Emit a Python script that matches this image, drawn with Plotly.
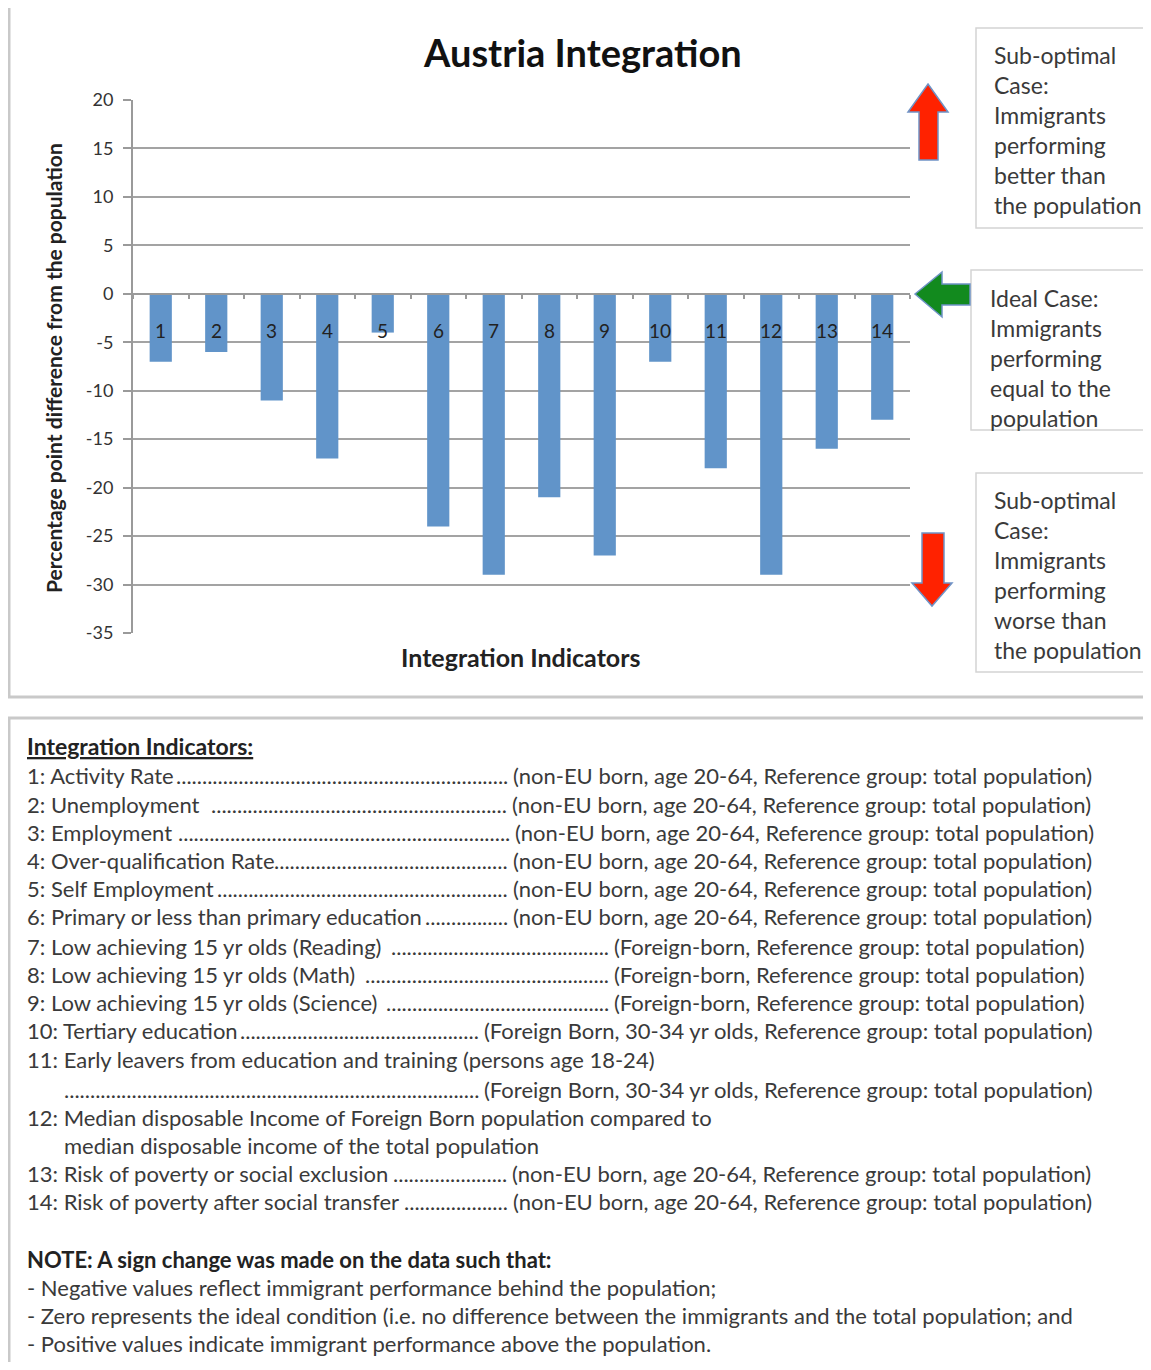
import plotly.graph_objects as go

# ---------------- data ----------------
categories = [str(i) for i in range(1, 15)]
values = [-7, -6, -11, -17, -4, -24, -29, -21, -27, -7, -18, -29, -16, -13]
y_ticks = [20, 15, 10, 5, 0, -5, -10, -15, -20, -25, -30, -35]
y_tick_text = [str(v) for v in y_ticks]

title_text = "Austria Integration"
y_title = "Percentage point difference from the population"
x_title = "Integration Indicators"

box_upper = ["Sub-optimal", "Case:", "Immigrants", "performing", "better than", "the population"]
box_ideal = ["Ideal Case:", "Immigrants", "performing", "equal to the", "population"]
box_lower = ["Sub-optimal", "Case:", "Immigrants", "performing", "worse than", "the population"]

ref_nonEU = "(non-EU born, age 20-64, Reference group: total population)"
ref_foreign = "(Foreign-born, Reference group: total population)"
ref_fb3034 = "(Foreign Born, 30-34 yr olds, Reference group: total population)"

indicator_labels = [
    "1: Activity Rate",
    "2: Unemployment",
    "3: Employment",
    "4: Over-qualification Rate",
    "5: Self Employment",
    "6: Primary or less than primary education",
    "7: Low achieving 15 yr olds (Reading)",
    "8: Low achieving 15 yr olds (Math)",
    "9: Low achieving 15 yr olds (Science)",
    "10: Tertiary education",
    "11: Early leavers from education and training (persons age 18-24)",
    "",
    "12: Median disposable Income of Foreign Born population compared to",
    "median disposable income of the total population",
    "13: Risk of poverty or social exclusion",
    "14: Risk of poverty after social transfer",
]
indicator_refs = [ref_nonEU] * 6 + [ref_foreign] * 3 + [ref_fb3034, None, ref_fb3034, None, None, ref_nonEU, ref_nonEU]

note_lines = [
    "<b>NOTE: A sign change was made on the data such that:</b>",
    "- Negative values reflect immigrant performance behind the population;",
    "- Zero represents the ideal condition (i.e. no difference between the immigrants and the total population; and",
    "- Positive values indicate immigrant performance above the population.",
]

# ---------------- layout geometry (pixels, page coordinates) ----------------
OFF = 8                      # page body margin
W, H = 1151 - OFF, 1370 - 2 * OFF
PX0, PX1, PY0, PY1 = 133, 910, 100, 633
FONT = "Lato"
TXT = "#3a3a3a"


def px(x):
    return (x - PX0) / (PX1 - PX0)


def py(y):
    return (PY1 - y) / (PY1 - PY0)


def poly(points):
    return "M " + " L ".join(f"{px(a):.5f},{py(b):.5f}" for a, b in points) + " Z"


fig = go.Figure()
fig.add_trace(go.Bar(
    x=categories, y=values, width=0.4,
    marker=dict(color="#6194c9", line=dict(width=0)),
    hoverinfo="x+y", showlegend=False,
))

annotations = []
# bar number labels (category index positions)
for i, c in enumerate(categories):
    annotations.append(dict(x=i, y=-3.8, xref="x", yref="y", text=c, showarrow=False,
                            xanchor="center", yanchor="middle",
                            font=dict(family=FONT, size=19, color="#222")))


def pa(x, y, text, size, color=TXT, xanchor="left", **kw):
    annotations.append(dict(x=px(x), y=py(y), xref="paper", yref="paper", text=text,
                            xanchor=xanchor, yanchor="middle", showarrow=False,
                            font=dict(family=FONT, size=size, color=color), **kw))


pa(582, 52, f"<b>{title_text}</b>", 38, "#111", "center")
pa(520, 657, f"<b>{x_title}</b>", 25, "#222", "center")
pa(53, 368, f"<b>{y_title}</b>", 21, "#222", "center", textangle=-90)

# side boxes text
def box_lines(lines, x0, y0, pitch=30):
    for i, t in enumerate(lines):
        pa(x0, y0 + i * pitch, t, 23)

box_lines(box_upper, 992, 55)
box_lines(box_ideal, 988, 298)
box_lines(box_lower, 992, 500)

# indicator list
pa(25, 746, "<b><u>Integration Indicators:</u></b>", 23, "#222")

row_y = [775, 804, 832, 860, 888, 916, 946, 974, 1002, 1030, 1059, 1089, 1117, 1145, 1173, 1201]
row_x = [25] * 13 + [62, 25, 25]
dot_start = [170, 205, 172, 272, 212, 424, 387, 360, 380, 238, None, 58, None, None, 392, 400]
ref_start = [511, 510, 513, 511, 511, 511, 612, 612, 612, 482, None, 482, None, None, 510, 511]
DOT_W = 5.25
FS = 22
for i, lab in enumerate(indicator_labels):
    if lab:
        pa(row_x[i], row_y[i], lab, FS)
    ref = indicator_refs[i]
    if ref:
        n = int((ref_start[i] - 2 - dot_start[i]) / DOT_W)
        pa(ref_start[i] - 1, row_y[i], "." * n, FS, xanchor="right")
        pa(ref_start[i], row_y[i], ref, FS)

note_y = [1259, 1287, 1315, 1343]
for t, yy in zip(note_lines, note_y):
    pa(25, yy, t, FS, "#222" if t.startswith("<b>") else TXT)

shapes = []
# panels
for (x0, y0, x1, y1) in [(9, 5, 1180, 697), (9, 718, 1180, 1400)]:
    shapes.append(dict(type="rect", xref="paper", yref="paper", x0=px(x0), x1=px(x1), y0=py(y0), y1=py(y1),
                       line=dict(color="#c9c9c9", width=3), layer="below"))
# side boxes
for (x0, y0, x1, y1) in [(976, 28, 1180, 228), (971, 270, 1180, 430), (976, 473, 1180, 672)]:
    shapes.append(dict(type="rect", xref="paper", yref="paper", x0=px(x0), x1=px(x1), y0=py(y0), y1=py(y1),
                       line=dict(color="#d4d4d4", width=1.5)))
# arrows
red = "#ff2200"
edge = dict(color="#6f93c6", width=1.5)
shapes.append(dict(type="path", xref="paper", yref="paper", fillcolor=red, line=edge,
                   path=poly([(928, 84), (948, 112), (938, 112), (938, 160), (919, 160), (919, 112), (908, 112)])))
shapes.append(dict(type="path", xref="paper", yref="paper", fillcolor="#128a1e", line=edge,
                   path=poly([(915, 294), (942, 272), (942, 284), (970, 284), (970, 305), (942, 305), (942, 317)])))
shapes.append(dict(type="path", xref="paper", yref="paper", fillcolor=red, line=edge,
                   path=poly([(922, 533), (944, 533), (944, 583), (952, 583), (932, 606), (912, 583), (922, 583)])))

fig.update_layout(
    width=W, height=H,
    margin=dict(l=PX0 - OFF, r=(W + OFF) - PX1, t=PY0 - OFF, b=(H + OFF) - PY1, pad=0),
    paper_bgcolor="white", plot_bgcolor="white",
    showlegend=False,
    annotations=annotations,
    shapes=shapes,
    font=dict(family=FONT, color=TXT),
)
fig.update_yaxes(
    range=[-35, 20], tickvals=y_ticks, ticktext=y_tick_text, ticks="outside", ticklen=8,
    tickcolor="#9a9a9a", tickwidth=1.5, ticklabelstandoff=6,
    showgrid=True, gridcolor="#a3a3a3", gridwidth=1.5,
    zeroline=False, showline=True, linecolor="#9a9a9a", linewidth=2,
    tickfont=dict(family=FONT, size=18, color="#333"), fixedrange=True,
)
fig.update_xaxes(
    type="category", tickson="boundaries", ticks="outside", ticklen=4, tickcolor="#9a9a9a", tickwidth=1.5,
    showticklabels=False, showgrid=False, zeroline=False,
    showline=True, linecolor="#9a9a9a", linewidth=2,
    anchor="free", position=35 / 55, fixedrange=True,
)

fig.write_html("out.html")
